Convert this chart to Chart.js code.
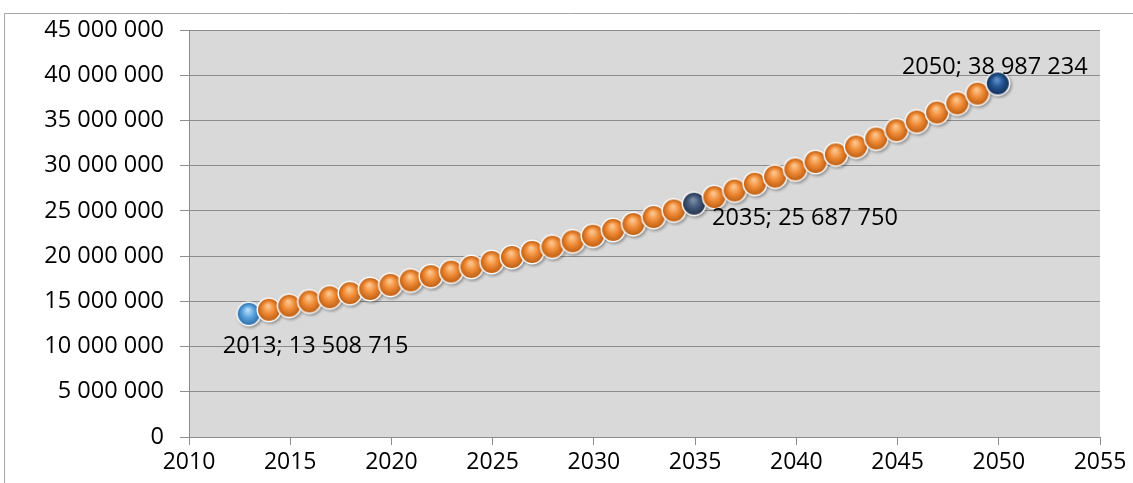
<!DOCTYPE html>
<html>
<head>
<meta charset="utf-8">
<script src="https://cdn.jsdelivr.net/npm/chart.js@4/dist/chart.umd.min.js"></script>
<style>
  html,body{margin:0;padding:0;background:#fff;}
  #box{position:relative;width:1133px;height:483px;}
</style>
</head>
<body>
<div id="box"><canvas id="chart"></canvas></div>
<script>
/* ---------- data ---------- */
const years = [2013,2014,2015,2016,2017,2018,2019,2020,2021,2022,2023,2024,2025,2026,2027,2028,2029,2030,2031,
  2032,2033,2034,2035,2036,2037,2038,2039,2040,2041,2042,2043,2044,2045,2046,2047,2048,2049,2050];
const population = [13508715,13960000,14410000,14880000,15340000,15800000,16260000,16720000,17200000,17680000,
  18180000,18700000,19240000,19790000,20350000,20930000,21530000,22150000,22790000,23440000,24210000,24940000,
  25687750,26420000,27150000,27900000,28680000,29480000,30300000,31140000,32010000,32900000,33820000,34780000,
  35770000,36790000,37860000,38987234];
const labelledYears = [2013,2035,2050];
const xTicks = [2010,2015,2020,2025,2030,2035,2040,2045,2050,2055];

/* ---------- small tools ---------- */
const fmt = v => String(v).replace(/\B(?=(\d{3})+(?!\d))/g,' ');
const FONT = '"Open Sans", sans-serif';

// glossy sphere used as a point image
function ball(hi, mid, edge){
  const c = document.createElement('canvas');
  c.width = 30; c.height = 30;
  const g = c.getContext('2d');
  const cx = 14, cy = 14;
  g.shadowColor = 'rgba(0,0,0,0.35)'; g.shadowBlur = 3; g.shadowOffsetX = 1.5; g.shadowOffsetY = 1.5;
  g.fillStyle = '#fff';
  g.beginPath(); g.arc(cx,cy,12.5,0,Math.PI*2); g.fill();
  g.shadowColor = 'transparent';
  const gr = g.createRadialGradient(cx-1,cy-4,1,cx,cy,11);
  gr.addColorStop(0,hi); gr.addColorStop(0.5,mid); gr.addColorStop(1,edge);
  g.fillStyle = gr;
  g.beginPath(); g.arc(cx,cy,11,0,Math.PI*2); g.fill();
  return c;
}
const orange = ball('#fcc48b','#ef8a35','#bf6015');
const special = {
  2013: ball('#b5dcf7','#5aa3de','#2f70ad'),
  2035: ball('#7a8ca6','#44587a','#27364d'),
  2050: ball('#5f8bca','#22548f','#13305a')
};

/* ---------- plugins ---------- */
const frame = {
  id:'frame',
  beforeDraw(ch){
    const {ctx, chartArea:a} = ch;
    ctx.save();
    ctx.strokeStyle = '#a6a6a6'; ctx.lineWidth = 1;
    ctx.beginPath();
    ctx.moveTo(4.5, ch.height); ctx.lineTo(4.5, 13.5); ctx.lineTo(ch.width, 13.5);
    ctx.stroke();
    ctx.fillStyle = '#d9d9d9';
    ctx.fillRect(a.left, a.top, a.right-a.left, a.bottom-a.top);
    ctx.restore();
  }
};

const dataLabels = {
  id:'dataLabels',
  afterDatasetsDraw(ch){
    const {ctx} = ch, xs = ch.scales.x, ys = ch.scales.y;
    ctx.save();
    ctx.font = '23.5px ' + FONT;
    ctx.fillStyle = '#000';
    ctx.textBaseline = 'middle';
    labelledYears.forEach(yr=>{
      const i = years.indexOf(yr);
      const px = xs.getPixelForValue(yr), py = ys.getPixelForValue(population[i]);
      const txt = yr + '; ' + fmt(population[i]);
      if (yr===2013){ ctx.textAlign='left'; ctx.fillText(txt, px-27, py+31); }
      else if (yr===2035){ ctx.textAlign='left'; ctx.fillText(txt, px+17, py+14); }
      else { ctx.textAlign='center'; ctx.fillText(txt, px-4, py-17); }
    });
    ctx.restore();
  }
};

/* ---------- chart ---------- */
new Chart(document.getElementById('chart').getContext('2d'),{
  type:'scatter',
  data:{
    datasets:[{
      data: years.map((y,i)=>({x:y, y:population[i]})),
      showLine:false,
      pointStyle: c => special[years[c.dataIndex]] || orange
    }]
  },
  options:{
    responsive:true, maintainAspectRatio:false, animation:false, events:[],
    devicePixelRatio:1,
    layout:{ padding:{ top:28, right:33, left:0, bottom:0 } },
    plugins:{ legend:{display:false}, tooltip:{enabled:false}, title:{display:false} },
    scales:{
      x:{
        type:'linear', min:2010, max:2055,
        afterBuildTicks: s => { s.ticks = xTicks.map(v=>({value:v})); },
        afterFit: s => { s.height = 46; },
        grid:{ drawOnChartArea:false, drawTicks:true, tickLength:8, color:'#8c8c8c' },
        border:{ color:'#8c8c8c' },
        ticks:{ color:'#000', font:{family:FONT, size:23}, padding:4, maxRotation:0,
          callback: v => String(v) }
      },
      y:{
        min:0, max:45000000,
        afterFit: s => { s.width = 189; },
        grid:{ color:'#8c8c8c', tickLength:9, drawTicks:true },
        border:{ color:'#8c8c8c' },
        ticks:{ color:'#000', font:{family:FONT, size:23.5}, padding:16, stepSize:5000000,
          callback: v => fmt(v) }
      }
    }
  },
  plugins:[frame, dataLabels]
});
</script>
</body>
</html>
